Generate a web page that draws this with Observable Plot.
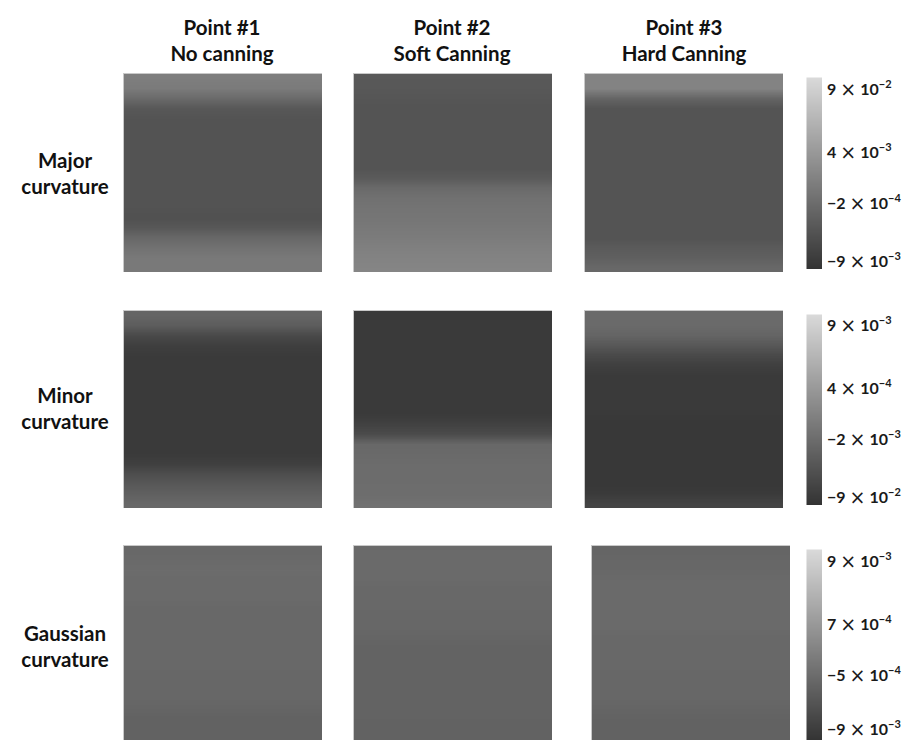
<!DOCTYPE html>
<html><head><meta charset="utf-8">
<script src="https://cdn.jsdelivr.net/npm/d3@7"></script>
<script src="https://cdn.jsdelivr.net/npm/@observablehq/plot@0.6"></script>
<style>
body{margin:0;background:#fff;}
#root{position:relative;width:907px;height:740px;overflow:hidden;font-family:Lato,"Open Sans",sans-serif;font-weight:700;color:#111;}
.abs{position:absolute;}
.hdr{text-align:center;font-size:20.5px;line-height:26px;white-space:nowrap;}
.tick{font-size:16px;white-space:nowrap;line-height:18px;color:#1a1a1a;}
.tick .x{font-weight:400;font-size:19px;margin:0 4px;font-family:"DejaVu Sans",sans-serif;vertical-align:-1px;}
.tick sup{font-size:11px;vertical-align:7px;line-height:0;}
.abs svg{display:block;}
</style></head><body><div id="root"></div>
<script>
// ---------- data ----------
const colTitles = [["Point #1","No canning"],["Point #2","Soft Canning"],["Point #3","Hard Canning"]];
const rowTitles = [["Major","curvature"],["Minor","curvature"],["Gaussian","curvature"]];

// normalized colour value per horizontal band, top -> bottom (0 = darkest, 1 = lightest)
const majorP1 = [0.45,0.43,0.33,0.22,0.20,0.19,0.19,0.19,0.19,0.19,0.19,0.19,0.19,0.19,0.18,0.22,0.32,0.38,0.42,0.42];
const majorP2 = [0.23,0.22,0.21,0.20,0.20,0.20,0.20,0.20,0.20,0.20,0.24,0.33,0.37,0.39,0.40,0.42,0.44,0.46,0.48,0.49];
const majorP3 = [0.48,0.48,0.30,0.20,0.20,0.20,0.20,0.20,0.20,0.20,0.20,0.20,0.20,0.20,0.20,0.20,0.20,0.24,0.27,0.32];
const minorP1 = [0.30,0.25,0.14,0.07,0.05,0.04,0.04,0.04,0.04,0.04,0.04,0.04,0.04,0.04,0.05,0.08,0.16,0.22,0.27,0.32];
const minorP2 = [0.04,0.04,0.04,0.04,0.04,0.04,0.04,0.04,0.04,0.04,0.05,0.09,0.15,0.32,0.33,0.34,0.34,0.35,0.35,0.37];
const minorP3 = [0.33,0.33,0.30,0.22,0.14,0.08,0.05,0.04,0.04,0.04,0.04,0.03,0.03,0.03,0.03,0.03,0.03,0.03,0.05,0.10];
const gaussP1 = [0.32,0.33,0.34,0.33,0.33,0.33,0.32,0.32,0.32,0.32,0.32,0.32,0.32,0.31,0.31,0.31,0.30,0.28,0.28,0.28];
const gaussP2 = [0.33,0.33,0.33,0.33,0.32,0.32,0.32,0.31,0.31,0.30,0.29,0.29,0.29,0.29,0.29,0.29,0.29,0.29,0.28,0.28];
const gaussP3 = [0.30,0.31,0.32,0.33,0.33,0.33,0.33,0.33,0.33,0.32,0.32,0.32,0.32,0.31,0.31,0.31,0.30,0.29,0.28,0.28];

// colour-bar tick labels (mantissa, exponent) and their positions on the bar (bar value)
const majorTickLabels = [["9","−2"],["4","−3"],["−2","−4"],["−9","−3"]];
const minorTickLabels = [["9","−3"],["4","−4"],["−2","−3"],["−9","−2"]];
const gaussTickLabels = [["9","−3"],["7","−4"],["−5","−4"],["−9","−3"]];
const tickValues = [0.94, 0.61, 0.345, 0.04];

// ---------- layout ----------
const root = document.getElementById("root");
const colorScale = {type:"linear", domain:[0,1], range:["#333333","#dadada"]};
const rows = [
  {profiles:[majorP1,majorP2,majorP3], ticks:majorTickLabels, top:73, h:199, xs:[123,353,584], bar:[77,192]},
  {profiles:[minorP1,minorP2,minorP3], ticks:minorTickLabels, top:310, h:198, xs:[123,353,584], bar:[314,191]},
  {profiles:[gaussP1,gaussP2,gaussP3], ticks:gaussTickLabels, top:545, h:198, xs:[123,353,591], bar:[549,192]}
];
const panelW = 199;

function place(el, x, y) {
  const d = document.createElement("div");
  d.className = "abs";
  d.style.left = x + "px"; d.style.top = y + "px";
  d.appendChild(el);
  root.appendChild(d);
  return d;
}

function panel(profile, w, h) {
  return Plot.plot({
    width: w, height: h, margin: 0,
    x: {axis: null, domain: [0, 1]},
    y: {axis: null, domain: [0, 1], reverse: true},
    color: colorScale,
    marks: [
      Plot.raster(profile, {width: 1, height: profile.length, x1: 0, x2: 1, y1: 0, y2: 1, fill: Plot.identity}),
      Plot.frame({stroke: "#c9c9c9"})
    ]
  });
}

function colorbar(h) {
  return Plot.plot({
    width: 16, height: h, margin: 0,
    x: {axis: null, domain: [0, 1]},
    y: {axis: null, domain: [0, 1]},
    color: colorScale,
    marks: [
      Plot.raster({x1: 0, x2: 1, y1: 0, y2: 1, fill: (x, y) => y})
    ]
  });
}

// column titles
const colCenters = [222, 452, 684];
colTitles.forEach((t, i) => {
  const d = document.createElement("div");
  d.className = "hdr";
  d.innerHTML = t.join("<br>");
  const w = place(d, colCenters[i] - 100, 14);
  w.style.width = "200px";
});

// row titles
const rowCenters = [173, 408, 646];
rowTitles.forEach((t, i) => {
  const d = document.createElement("div");
  d.className = "hdr";
  d.innerHTML = t.join("<br>");
  const w = place(d, 0, rowCenters[i] - 26);
  w.style.width = "130px";
});

rows.forEach(r => {
  r.profiles.forEach((p, j) => place(panel(p, panelW, r.h), r.xs[j], r.top));
  const cb = colorbar(r.bar[1]);
  place(cb, 806, r.bar[0]);
  const ys = cb.scale("y");
  r.ticks.forEach((lab, k) => {
    const d = document.createElement("div");
    d.className = "tick";
    d.innerHTML = `${lab[0]}<span class="x">×</span>10<sup>${lab[1]}</sup>`;
    const yy = Math.min(r.bar[0] + ys.apply(tickValues[k]) - 9, 740 - 20);
    place(d, 827, yy);
  });
});
</script></body></html>
